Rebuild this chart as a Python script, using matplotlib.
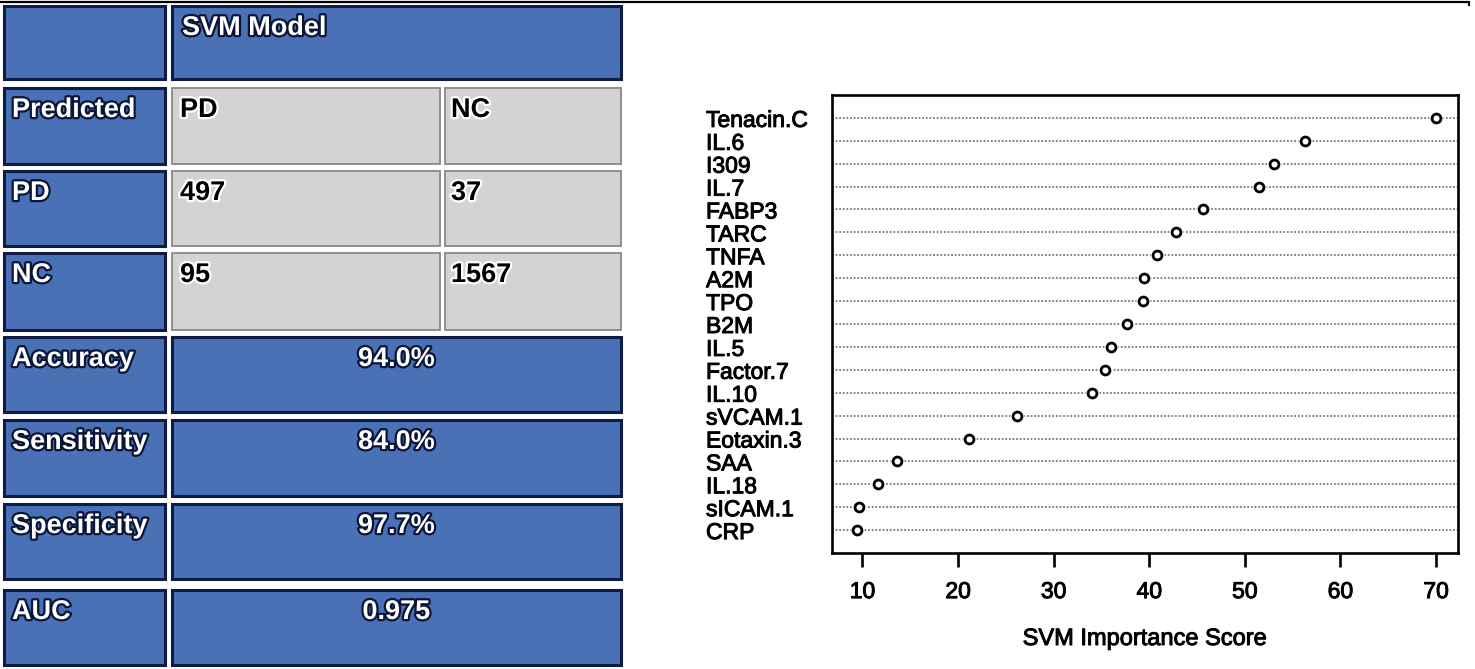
import matplotlib
matplotlib.use("Agg")
import matplotlib.pyplot as plt
from matplotlib.patches import Rectangle
import matplotlib.patheffects as pe

# ---------------- data ----------------
features = ["Tenacin.C", "IL.6", "I309", "IL.7", "FABP3", "TARC", "TNFA", "A2M",
            "TPO", "B2M", "IL.5", "Factor.7", "IL.10", "sVCAM.1", "Eotaxin.3",
            "SAA", "IL.18", "sICAM.1", "CRP"]
scores = [70.0, 56.3, 53.0, 51.5, 45.6, 42.8, 40.8, 39.4, 39.3, 37.7, 36.0,
          35.4, 34.0, 26.2, 21.1, 13.6, 11.6, 9.6, 9.4]
x_ticks = [10, 20, 30, 40, 50, 60, 70]
x_label = "SVM Importance Score"

table_title = "SVM Model"
predicted_label = "Predicted"
class_names = ["PD", "NC"]
confusion = [[497, 37], [95, 1567]]
metric_names = ["Accuracy", "Sensitivity", "Specificity", "AUC"]
metric_values = ["94.0%", "84.0%", "97.7%", "0.975"]

# ---------------- figure ----------------
W, H = 1475, 669
fig = plt.figure(figsize=(W / 100, H / 100), dpi=100)
fig.patch.set_facecolor("white")

# overlay in pixel coordinates for the table
ov = fig.add_axes([0, 0, 1, 1])
ov.set_xlim(0, W)
ov.set_ylim(H, 0)
ov.axis("off")

BLUE = "#4a71b6"
BLUE_EDGE = "#0e1c45"
GRAY = "#d3d3d3"
GRAY_EDGE = "#8f8f8f"
FONT = "Liberation Sans"
FS = 19.5

white_txt = [pe.withStroke(linewidth=3.2, foreground="#0a1538")]
black_txt = [pe.withStroke(linewidth=3.2, foreground="white")]

rows = [(5, 80), (87, 165), (170, 247), (252, 331),
        (336, 413), (419, 497), (503, 580), (589, 666)]
c1 = (3, 166)
c2 = (171, 441)
c3 = (444, 622)
c23 = (171, 622)


def cell(x0x1, y0y1, fill, edge, lw):
    x0, x1 = x0x1
    y0, y1 = y0y1
    ov.add_patch(Rectangle((x0 + 1, y0 + 1), x1 - x0 - 2, y1 - y0 - 2,
                           facecolor=fill, edgecolor=edge, linewidth=lw))


def txt(x, y, s, color, effects, ha="left"):
    ov.text(x, y, s, color=color, fontsize=FS, fontweight="bold", family=FONT,
            ha=ha, va="baseline", path_effects=effects)


BASE = 30
# header row
cell(c1, rows[0], BLUE, BLUE_EDGE, 2.2)
cell(c23, rows[0], BLUE, BLUE_EDGE, 2.2)
txt(c23[0] + 11, rows[0][0] + BASE, table_title, "white", white_txt)

# predicted row
cell(c1, rows[1], BLUE, BLUE_EDGE, 2.2)
cell(c2, rows[1], GRAY, GRAY_EDGE, 1.4)
cell(c3, rows[1], GRAY, GRAY_EDGE, 1.4)
txt(c1[0] + 9, rows[1][0] + BASE, predicted_label, "white", white_txt)
txt(c2[0] + 9, rows[1][0] + BASE, class_names[0], "black", black_txt)
txt(c3[0] + 7, rows[1][0] + BASE, class_names[1], "black", black_txt)

# confusion rows
for i, name in enumerate(class_names):
    r = rows[2 + i]
    cell(c1, r, BLUE, BLUE_EDGE, 2.2)
    cell(c2, r, GRAY, GRAY_EDGE, 1.4)
    cell(c3, r, GRAY, GRAY_EDGE, 1.4)
    txt(c1[0] + 9, r[0] + BASE, name, "white", white_txt)
    txt(c2[0] + 9, r[0] + BASE, str(confusion[i][0]), "black", black_txt)
    txt(c3[0] + 7, r[0] + BASE, str(confusion[i][1]), "black", black_txt)

# metric rows
for i, (name, val) in enumerate(zip(metric_names, metric_values)):
    r = rows[4 + i]
    cell(c1, r, BLUE, BLUE_EDGE, 2.2)
    cell(c23, r, BLUE, BLUE_EDGE, 2.2)
    txt(c1[0] + 9, r[0] + BASE, name, "white", white_txt)
    txt((c23[0] + c23[1]) / 2, r[0] + BASE, val, "white", white_txt, ha="center")

# thin frame line at the very top
ov.plot([0, 1469, 1469], [1.5, 1.5, 5], color="black", lw=1.6,
        solid_joinstyle="miter")

# ---------------- dot chart ----------------
L, R, T, B = 831.7, 1458.0, 95.0, 553.0
ax = fig.add_axes([L / W, (H - B) / H, (R - L) / W, (B - T) / H])
n = len(features)
ypos = [n - i for i in range(n)]

for y in ypos:
    ax.axhline(y, color="#7a7a7a", lw=1.3, linestyle=(0, (1, 1.0)), zorder=1)
ax.plot(scores, ypos, linestyle="none", marker="o", ms=10,
        markerfacecolor="white", markeredgecolor="none", zorder=2)
ax.plot(scores, ypos, linestyle="none", marker="o", ms=6.4,
        markerfacecolor="white", markeredgecolor="black", mew=2.0, zorder=3)

heavy = [pe.withStroke(linewidth=0.7, foreground="black")]

ax.set_xlim(6.78, 72.3)
ax.set_ylim(0, n + 1)
ax.set_xticks(x_ticks)
ax.set_xticklabels([str(t) for t in x_ticks], family=FONT, fontsize=16.5)
ax.set_yticks(ypos)
ax.set_yticklabels(features, family=FONT, fontsize=16.5)
for lab in ax.get_yticklabels() + ax.get_xticklabels():
    lab.set_path_effects(heavy)
for lab in ax.get_yticklabels():
    lab.set_ha("left")
ax.tick_params(axis="y", length=0, pad=90.5)
ax.tick_params(axis="x", direction="out", length=10, width=1.9, pad=9.5)
for sp in ax.spines.values():
    sp.set_linewidth(1.9)
    sp.set_color("black")

ax.set_xlabel(x_label, family=FONT, fontsize=17)
ax.xaxis.set_label_coords(0.5, (B - 639) / (B - T))
ax.xaxis.label.set_va("center")
ax.xaxis.label.set_path_effects(heavy)

fig.savefig("out.png", dpi=100, facecolor="white")
